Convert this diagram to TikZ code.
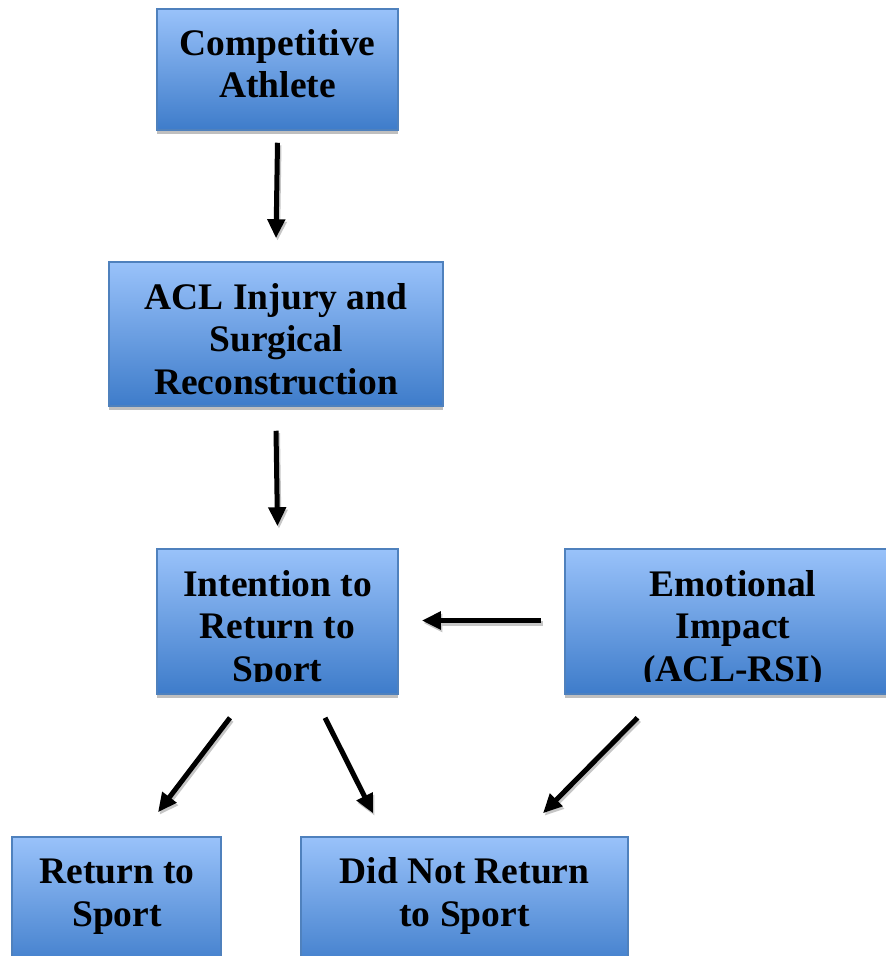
\documentclass[tikz,border=0pt]{standalone}
\usepackage{fontspec}
\setmainfont{Liberation Serif}
\usetikzlibrary{arrows.meta,calc,shadows}
\definecolor{topblue}{RGB}{153,194,250}
\definecolor{botblue}{RGB}{62,124,202}
\definecolor{edgeblue}{RGB}{79,129,189}
\tikzset{
  box/.style={draw=edgeblue, line width=1.5pt, top color=topblue, bottom color=botblue,
    inner sep=0pt, drop shadow={shadow xshift=0pt, shadow yshift=-4pt, fill=gray!50, opacity=1}},
  lbl/.style={anchor=base, inner sep=0pt, font=\fontsize{37.5}{42.5}\selectfont\bfseries},
  arr/.style={line width=5pt, -{Triangle[length=19pt,width=17pt]},
    preaction={draw=gray!45, line width=5pt, -{Triangle[length=19pt,width=17pt]},
      transform canvas={shift={(1.5pt,-2.5pt)}}}}
}
\begin{document}
\begin{tikzpicture}[x=1pt,y=-1pt]
\useasboundingbox (0,0) rectangle (886,956);
% boxes
\node[box, minimum width=241pt, minimum height=121pt] (athlete) at (277.5,69.5) {};
\node[box, minimum width=334pt, minimum height=144pt] (acl) at (276,334) {};
\node[box, minimum width=241pt, minimum height=145pt] (intent) at (277.5,621.5) {};
\node[box, minimum width=325pt, minimum height=145pt] (emo) at (727.5,621.5) {};
\node[box, minimum width=209pt, minimum height=135pt] (rts) at (116.5,904.5) {};
\node[box, minimum width=327pt, minimum height=135pt] (dnr) at (464.5,904.5) {};
% texts
\node[lbl] (t1) at (277.5,55) {\begin{tabular}[t]{@{}c@{}}Competitive\\Athlete\end{tabular}};
\node[lbl] (t2) at (276,309) {\begin{tabular}[t]{@{}c@{}}ACL Injury and\\Surgical\\Reconstruction\end{tabular}};
\begin{scope}
\clip (150,549) rectangle (890,681.5);
\node[lbl] (t3) at (277.5,596) {\begin{tabular}[t]{@{}c@{}}Intention to\\Return to\\Sport\end{tabular}};
\node[lbl] (t4) at (733,596) {\begin{tabular}[t]{@{}c@{}}Emotional\\Impact\\(ACL-RSI)\end{tabular}};
\end{scope}
\node[lbl] (t5) at (117,883.5) {\begin{tabular}[t]{@{}c@{}}Return to\\Sport\end{tabular}};
\node[lbl] (t6) at (464.5,883.5) {\begin{tabular}[t]{@{}c@{}}Did Not Return\\to Sport\end{tabular}};
% arrows
\draw[arr] ([yshift=-12pt]athlete.south) -- ([yshift=23pt]acl.north);
\draw[arr] ([yshift=-24pt]acl.south) -- ([yshift=22pt]intent.north);
\draw[arr] ([xshift=-23pt,yshift=1pt]emo.west) -- ([xshift=23pt,yshift=1pt]intent.east);
\draw[arr] ([xshift=-47.5pt,yshift=-23pt]intent.south) -- ([xshift=41.5pt,yshift=24pt]rts.north);
\draw[arr] ([xshift=47.5pt,yshift=-23pt]intent.south) -- ([xshift=-91.5pt,yshift=23pt]dnr.north);
\draw[arr] ([xshift=-90pt,yshift=-23pt]emo.south) -- ([xshift=78.5pt,yshift=23pt]dnr.north);
\end{tikzpicture}
\end{document}
